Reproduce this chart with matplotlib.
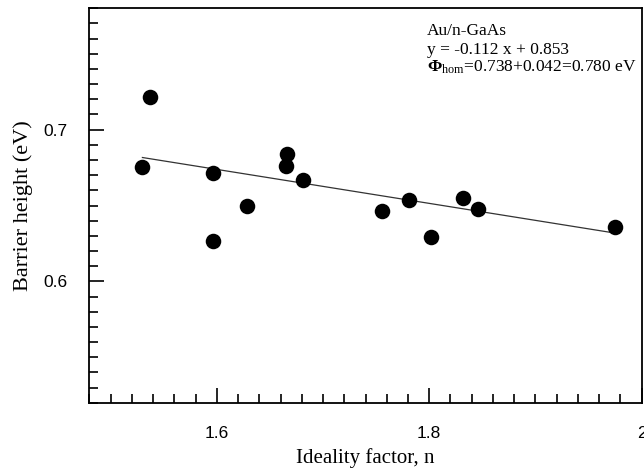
import matplotlib
matplotlib.use("Agg")
import matplotlib.pyplot as plt
import numpy as np
from matplotlib.ticker import MultipleLocator

# Data
ideality = [1.537, 1.530, 1.596, 1.596, 1.628, 1.666, 1.665, 1.681,
            1.756, 1.781, 1.802, 1.832, 1.846, 1.975]
barrier = [0.7216, 0.6756, 0.6716, 0.6269, 0.6499, 0.6841, 0.6763, 0.6670,
           0.6466, 0.6539, 0.6295, 0.6552, 0.6480, 0.6361]
slope = -0.112
intercept = 0.853
fit_range = [1.530, 1.975]
xticks = [1.6, 1.8, 2.0]
xticklabels = ["1.6", "1.8", "2"]
yticks = [0.6, 0.7]
yticklabels = ["0.6", "0.7"]

plt.rcParams['mathtext.fontset'] = 'custom'
plt.rcParams['mathtext.rm'] = 'Liberation Serif'
plt.rcParams['mathtext.it'] = 'Liberation Serif:italic'
plt.rcParams['mathtext.bf'] = 'Liberation Serif:bold'

fig = plt.figure(figsize=(6.44, 4.70), dpi=100)
ax = fig.add_axes([89.3/644, (470-402.7)/470, (641.7-89.3)/644, (402.7-8.3)/470])

ax.scatter(ideality, barrier, s=125, color='black', zorder=3, linewidths=0)
fx = np.array(fit_range)
ax.plot(fx, slope*fx + intercept, color='#333333', lw=0.9, zorder=2)

ax.set_xlim(1.48, 2.0)
ax.set_ylim(0.52, 0.78)
ax.set_xticks(xticks)
ax.set_xticklabels(xticklabels, family='Liberation Sans', fontsize=12.5)
ax.set_yticks(yticks)
ax.set_yticklabels(yticklabels, family='Liberation Sans', fontsize=12.5)
ax.xaxis.set_minor_locator(MultipleLocator(0.02))
ax.yaxis.set_minor_locator(MultipleLocator(0.01))
ax.tick_params(which='both', direction='in', top=False, right=False, width=1.2)
ax.tick_params(which='major', length=10.5)
ax.tick_params(which='minor', length=6.5)
ax.tick_params(axis='x', which='major', pad=17)
ax.tick_params(axis='y', which='major', pad=16)
for sp in ax.spines.values():
    sp.set_linewidth(1.3)

ax.set_xlabel("Ideality factor, n", family='Liberation Serif', fontsize=15, labelpad=5)
ax.set_ylabel("Barrier height (eV)", family='Liberation Serif', fontsize=16, labelpad=7)

tx = (427-89.3)/(641.7-89.3)
fs = 12.5
ax.text(tx, 1-(35-8.3)/394.4, "Au/n-GaAs", transform=ax.transAxes,
        family='Liberation Serif', fontsize=fs, va='baseline')
ax.text(tx, 1-(53.5-8.3)/394.4, "y = -0.112 x + 0.853", transform=ax.transAxes,
        family='Liberation Serif', fontsize=fs, va='baseline')
ax.text(tx, 1-(72-8.3)/394.4, r"$\mathbf{\Phi}_{\mathrm{hom}}$=0.738+0.042=0.780 eV",
        transform=ax.transAxes, family='Liberation Serif', fontsize=fs, va='baseline')

fig.savefig("out.png", dpi=100)
